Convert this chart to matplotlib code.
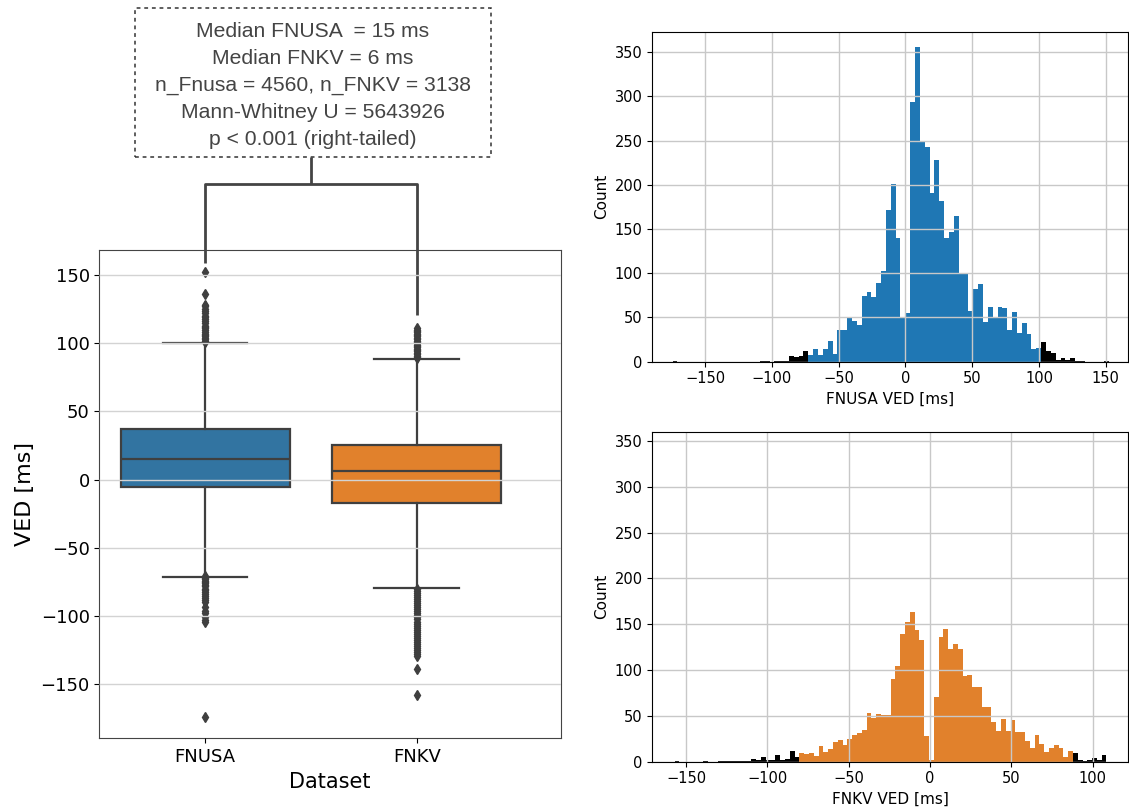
import numpy as np
import matplotlib.pyplot as plt
from matplotlib.patches import Rectangle

# ---- data ----
datasets = ["FNUSA", "FNKV"]
box_colors = ["#3274a1", "#e1812c"]
hist_colors = ["#1f77b4", "#e1812c"]

# boxplot statistics [ms]
medians = [15.2, 6.4]
q1 = [-5.6, -16.9]
q3 = [37.4, 25.2]
whisker_lo = [-71.0, -79.6]
whisker_hi = [100.4, 88.5]

fliers_fnusa = [101, 102, 103, 104, 105, 106, 107, 108, 110, 111, 112, 113,
                115, 116, 118, 119, 120, 122, 124, 125, 127, 128, 136.1, 152.5,
                -70.5, -72, -73, -74, -75, -76, -77, -78, -80, -81, -82, -84,
                -85, -87, -88, -90, -93, -96, -98, -101, -103, -104.5, -174.2]
fliers_fnkv = [89, 90, 91, 92, 93, 94, 95, 96, 97, 98, 99, 100, 101, 102,
               103, 104, 105, 106, 107, 108, 109, 110, 111,
               -80, -81.5, -83, -84.5, -86, -87.5, -89, -90.5, -92, -93.5,
               -95, -96.5, -98, -99.5, -101, -102.5, -104, -105.5, -107,
               -108.5, -110, -111.5, -113, -114.5, -116, -117.5, -119,
               -120.5, -122, -123.5, -125, -126.5, -128, -129.5, -138.6, -157.8]

# histograms: 90 equal bins between min and max of each dataset
fnusa_range = (-174.3, 152.5)
fnkv_range = (-157.0, 108.5)
fnusa_counts = [1, 0, 0, 0, 0, 0, 0, 0, 0, 0, 0, 0, 0, 0, 0, 0, 0, 0,
                1, 1, 0, 1, 1, 1,
                7, 5, 7, 12,
                8, 14, 8, 14, 23, 9,
                36, 36, 51, 46, 41, 74, 79, 73, 89, 102,
                172, 201, 140, 50, 55, 294, 356, 249, 243, 191,
                228, 182, 140, 147, 165, 100, 99, 57, 82, 88,
                45, 62, 51, 62, 61, 36, 56, 32, 44, 31,
                14, 15, 22, 12, 10, 2, 4, 2, 4, 1,
                1, 0, 0, 0, 0, 1]
fnkv_counts = [1, 0, 0, 0, 0, 0, 1, 0, 0, 1, 1, 1, 1, 1, 1, 1,
               3, 2, 5, 2, 2, 7, 2, 3, 12, 5,
               10, 8, 10, 6, 17, 11, 14, 21, 24, 18, 25, 29, 31, 35,
               53, 48, 52, 51, 51,
               90, 104, 139, 152, 163, 144, 133, 28, 2, 71,
               136, 145, 123, 128, 123, 94, 95, 81, 81, 60,
               60, 43, 33, 47, 33, 45, 32, 32, 23, 15,
               29, 19, 11, 15, 18, 15, 5, 12,
               10, 2, 1, 2, 4, 2, 7]

annotation = ("Median FNUSA  = 15 ms\n"
              "Median FNKV = 6 ms\n"
              "n_Fnusa = 4560, n_FNKV = 3138\n"
              "Mann-Whitney U = 5643926\n"
              "p < 0.001 (right-tailed)")

# ---- figure ----
fig = plt.figure(figsize=(11.29, 8.09), dpi=100)
ax_box = fig.add_axes([0.088, 0.0874, 0.4086, 0.6036])
ax_h1 = fig.add_axes([0.5778, 0.5529, 0.4210, 0.4079])
ax_h2 = fig.add_axes([0.5778, 0.0585, 0.4210, 0.4079])

edge = "#3f3f3f"

# boxplot from the statistics
stats = []
for i, name in enumerate(datasets):
    stats.append(dict(med=medians[i], q1=q1[i], q3=q3[i],
                      whislo=whisker_lo[i], whishi=whisker_hi[i],
                      fliers=[fliers_fnusa, fliers_fnkv][i], label=name))
bp = ax_box.bxp(stats, positions=[0, 1], widths=0.8, capwidths=0.4,
                patch_artist=True,
                boxprops=dict(edgecolor=edge, linewidth=1.6),
                medianprops=dict(color=edge, linewidth=1.6),
                whiskerprops=dict(color=edge, linewidth=1.6),
                capprops=dict(color=edge, linewidth=1.6),
                flierprops=dict(marker="d", markerfacecolor=edge,
                                markeredgecolor=edge, markersize=5))
for patch, c in zip(bp["boxes"], box_colors):
    patch.set_facecolor(c)

ax_box.set_xlim(-0.5, 1.68)
ax_box.set_ylim(-189.6, 168.4)
ax_box.set_yticks([-150, -100, -50, 0, 50, 100, 150])
ax_box.set_xticks([0, 1])
ax_box.set_xticklabels(datasets)
ax_box.tick_params(labelsize=13)
ax_box.set_axisbelow(False)
ax_box.yaxis.grid(True, color="#d3d3d3", linewidth=1.0)
ax_box.set_xlabel("Dataset", fontsize=15)
ax_box.set_ylabel("VED [ms]", fontsize=16)
for s in ax_box.spines.values():
    s.set_color("#444444")

# significance bracket above the boxes
ax_box.plot([0, 0, 1, 1], [159, 216.8, 216.8, 120.7], color="#444444",
            linewidth=2, clip_on=False, solid_capstyle="butt")
ax_box.plot([0.5, 0.5], [216.8, 236.3], color="#444444", linewidth=2,
            clip_on=False, solid_capstyle="butt")

fig.patches.append(Rectangle((0.1196, 0.8056), 0.3150, 0.1842,
                             transform=fig.transFigure, fill=True,
                             facecolor="white", edgecolor="#333333",
                             linewidth=1.1, linestyle=(0, (2.5, 2.5))))
fig.text(0.277, 0.8945, annotation, ha="center", va="center",
         fontsize=15.2, family="Liberation Sans", color="#444444",
         linespacing=1.52)

# histograms, bins outside the whiskers drawn in black
def draw_hist(ax, counts, rng, i, xlabel):
    edges = np.linspace(rng[0], rng[1], len(counts) + 1)
    centers = (edges[:-1] + edges[1:]) / 2
    colors = ["black" if (c < whisker_lo[i] or c > whisker_hi[i])
              else hist_colors[i] for c in centers]
    ax.bar(edges[:-1], counts, width=np.diff(edges), align="edge",
           color=colors, linewidth=0)
    ax.grid(True, color="#c8c8c8", linewidth=1.0)
    ax.set_xlabel(xlabel, fontsize=11)
    ax.set_ylabel("Count", fontsize=11)
    ax.tick_params(labelsize=10.5)
    ax.set_yticks([0, 50, 100, 150, 200, 250, 300, 350])

draw_hist(ax_h1, fnusa_counts, fnusa_range, 0, "FNUSA VED [ms]")
ax_h1.set_xlim(-189.4, 166.4)
ax_h1.set_ylim(0, 373)
ax_h1.set_xticks([-150, -100, -50, 0, 50, 100, 150])

draw_hist(ax_h2, fnkv_counts, fnkv_range, 1, "FNKV VED [ms]")
ax_h2.set_xlim(-170.7, 121.5)
ax_h2.set_ylim(0, 360)
ax_h2.set_xticks([-150, -100, -50, 0, 50, 100])

fig.savefig("out.png", dpi=100)
